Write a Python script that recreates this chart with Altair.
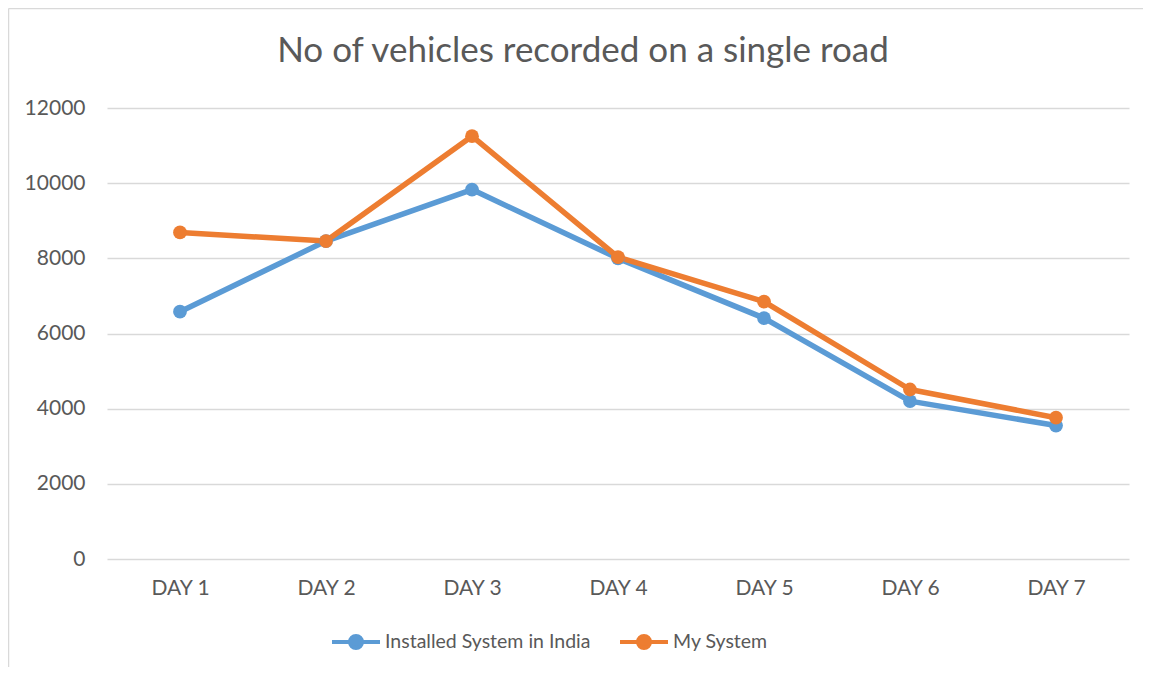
import altair as alt
import pandas as pd

days = ["DAY 1", "DAY 2", "DAY 3", "DAY 4", "DAY 5", "DAY 6", "DAY 7"]
installed = [6580, 8460, 9830, 8000, 6410, 4200, 3550]
my_system = [8690, 8460, 11250, 8030, 6850, 4510, 3760]
series_names = ["Installed System in India", "My System"]
colors = ["#5B9BD5", "#ED7D31"]
y_ticks = [0, 2000, 4000, 6000, 8000, 10000, 12000]

rows = []
for name, vals in zip(series_names, [installed, my_system]):
    for d, v in zip(days, vals):
        rows.append({"day": d, "value": v, "series": name})
df = pd.DataFrame(rows)

FONT = "Lato"
GREY = "#595959"

legend_path = "M-1,0L1,0M-0.25,0A0.25,0.25,0,1,1,0.25,0A0.25,0.25,0,1,1,-0.25,0Z"

x = alt.X("day:N", sort=days, title=None,
          scale=alt.Scale(type="point", padding=0.5),
          axis=alt.Axis(labelAngle=0, ticks=False, domain=False, grid=False,
                        labelPadding=18, labelFontSize=21, labelColor=GREY, labelFont=FONT))
y = alt.Y("value:Q", title=None,
          scale=alt.Scale(domain=[0, 12000], nice=False),
          axis=alt.Axis(values=y_ticks, format="d", ticks=False, domain=False, grid=True,
                        gridColor="#D9D9D9", gridWidth=1.5, labelPadding=22,
                        labelFontSize=21, labelColor=GREY, labelFont=FONT))
color = alt.Color("series:N", sort=series_names,
                  scale=alt.Scale(domain=series_names, range=colors),
                  legend=alt.Legend(title=None, orient="none", direction="horizontal",
                                    legendX=223, legendY=508, padding=0,
                                    symbolType=legend_path, symbolSize=2304,
                                    symbolStrokeWidth=4, labelOffset=3, labelLimit=400,
                                    columnPadding=21, labelFontSize=19.5,
                                    labelColor=GREY, labelFont=FONT))

base = alt.Chart(df)
lines = base.mark_line(strokeWidth=5.5, strokeCap="round", strokeJoin="round").encode(
    x=x, y=y, color=color)
points = base.mark_point(filled=True, size=190, opacity=1).encode(
    x=x, y=y, color=color)

frame_df = pd.DataFrame({"k": [0]})
left_border = alt.Chart(frame_df).mark_rule(color="#D9D9D9", strokeWidth=1.5).encode(
    x=alt.value(-98.5), y=alt.value(-99.5), y2=alt.value(559))
top_border = alt.Chart(frame_df).mark_rule(color="#D9D9D9", strokeWidth=1.5).encode(
    x=alt.value(-98.5), x2=alt.value(1040), y=alt.value(-99.5))

chart = alt.layer(left_border, top_border, lines, points).properties(
    width=1022, height=451,
    title=alt.Title("No of vehicles recorded on a single road", fontSize=35,
                    font=FONT, fontWeight="normal", color=GREY, anchor="middle",
                    baseline="alphabetic", offset=0, dy=89, dx=-35),
    padding={"left": 99, "top": 100, "right": 14, "bottom": 108},
    autosize=alt.AutoSizeParams(type="none"),
).configure_view(stroke=None)

chart.save("out.html", embed_options={"renderer": "svg", "actions": False})
